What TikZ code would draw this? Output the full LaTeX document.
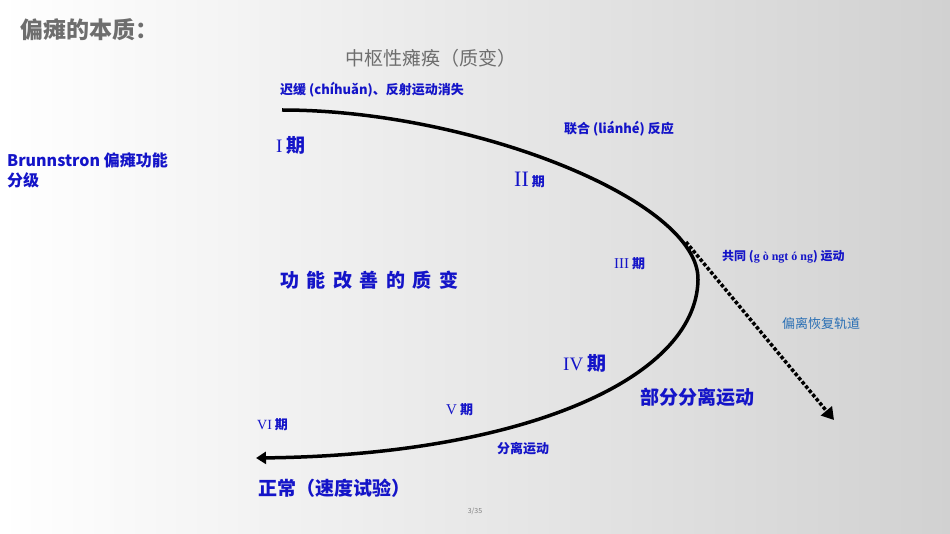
\documentclass[tikz,border=0pt]{standalone}
\usepackage{fontspec}
\setmainfont{Noto Sans CJK SC}
\newfontfamily\romn{Liberation Serif}
\usetikzlibrary{arrows.meta}
\definecolor{lb}{RGB}{20,20,200}
\definecolor{tb}{RGB}{40,110,180}
\definecolor{gt}{RGB}{110,110,110}
\tikzset{lab/.style={text=lb,font=\bfseries\fontsize{13}{15}\selectfont,inner sep=0pt,anchor=west},
  big/.style={text=lb,font=\bfseries\fontsize{19}{22}\selectfont,inner sep=0pt,anchor=west}}
\begin{document}
\begin{tikzpicture}[x=1pt,y=-1pt]
\shade[left color=white,right color=black!18] (0,0) rectangle (950,534);
\useasboundingbox (0,0) rectangle (950,534);
\node[anchor=west,inner sep=0pt,text=gt,font=\bfseries\fontsize{23}{26}\selectfont] (title) at (20,30) {偏瘫的本质：};
\node[anchor=west,inner sep=0pt,text=gt,font=\fontsize{19}{22}\selectfont] (sub) at (345,58) {中枢性瘫痪（质变）};
\node[lab] (l1) at (280,90) {迟缓 (chíhuǎn)、反射运动消失};
\node[lab] (l2) at (564,129) {联合 (liánhé) 反应};
\node[text=lb,font=\bfseries\fontsize{16}{20}\selectfont,anchor=west,inner sep=0pt,align=left] (br) at (7,170) {Brunnstron 偏瘫功能\\分级};
\node[big] (p1) at (276,145) {{\romn\mdseries I} 期};
\node[lab] (p2) at (514,180) {{\romn\mdseries\fontsize{22}{24}\selectfont II} 期};
\node[lab] (p3) at (614,264) {{\romn\mdseries\fontsize{15}{16}\selectfont III} 期};
\node[big] (p4) at (563,363) {{\romn\mdseries IV} 期};
\node[lab] (p5) at (446,410) {{\romn\mdseries\fontsize{15}{16}\selectfont V} 期};
\node[lab] (p6) at (257,425) {{\romn\mdseries\fontsize{14}{16}\selectfont VI} 期};
\node[big] (gn) at (280,280) {功\, 能\, 改\, 善\, 的\, 质\, 变};
\node[lab,font=\bfseries\fontsize{12}{14}\selectfont] (gt) at (722,257) {共同 ({\romn g ò ngt ó ng}) 运动};
\node[lab,text=tb,font=\fontsize{13}{15}\selectfont] (hl) at (782,324) {偏离恢复轨道};
\node[big] (bf) at (640,397) {部分分离运动};
\node[lab] (fl) at (497,449) {分离运动};
\node[big] (zc) at (258,488) {正常（速度试验）};
\node[text=gray,font=\fontsize{7}{8}\selectfont] (pg) at (475,511) {3/35};
\coordinate (s) at (282,110);
\coordinate (e) at (256,458);
\draw[line width=3.5pt,-{Triangle[length=10pt,width=12pt]}] (s) .. controls (470,110) and (700,200) .. (698,280)
  .. controls (696,380) and (520,455) .. (e);
\coordinate (d1) at (686,242);
\coordinate (d2) at (834,420);
\draw[line width=3.5pt,dotted,-{Triangle[length=12pt,width=14pt]}] (d1) -- (d2);
\end{tikzpicture}
\end{document}
